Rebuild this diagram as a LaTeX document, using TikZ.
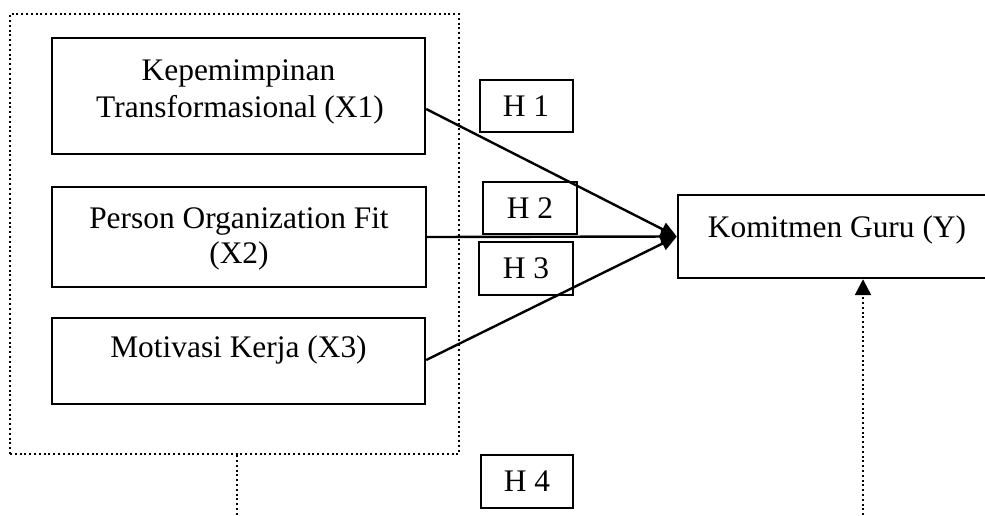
\documentclass[tikz,border=0pt]{standalone}
\usepackage{fontspec}
\setmainfont{Liberation Serif}
\usetikzlibrary{arrows.meta,calc}
\begin{document}
\begin{tikzpicture}[x=0.5pt,y=-0.5pt,
  font=\fontsize{15.7}{18.5}\selectfont,
  vbox/.style={draw,line width=1.2pt,inner sep=0pt},
  hbox/.style={draw,line width=1pt,inner sep=0pt,minimum height=26pt},
  dotbox/.style={draw,line width=1.2pt,dash pattern=on 1pt off 1.4pt,inner sep=0pt},
  dotline/.style={line width=1.2pt,dash pattern=on 1pt off 1.4pt},
  txt/.style={anchor=base,inner sep=0pt},
  arr/.style={line width=1.2pt,-{Triangle[length=8pt,width=7pt]}},
  dotarr/.style={dotline,-{Triangle[length=8pt,width=8pt]}}]
\clip (0,0) rectangle (985,515);
% outer dotted frame
\node[dotbox,minimum width=224.5pt,minimum height=220pt] (outer) at (234.5,234) {};
% variable boxes
\node[vbox,minimum width=186.5pt,minimum height=58pt] (x1) at (238.5,96) {};
\node[vbox,minimum width=187pt,minimum height=50pt] (x2) at (239,237) {};
\node[vbox,minimum width=186.5pt,minimum height=43pt] (x3) at (238.5,361) {};
\node[vbox,minimum width=156pt,minimum height=41.5pt] (y) at (834,236.5) {};
% texts
\node[txt] (t1a) at (238.5,80) {Kepemimpinan};
\node[txt] (t1b) at (240,117) {Transformasional (X1)};
\node[txt] (t2a) at (239,228) {Person Organization Fit};
\node[txt] (t2b) at (239,263) {(X2)};
\node[txt] (t3) at (238.5,357) {Motivasi Kerja (X3)};
\node[txt] (ty) at (837,237) {Komitmen Guru (Y)};
% hypothesis boxes
\node[hbox,minimum width=46.5pt] (h1) at (526,106) {H 1};
\node[hbox,minimum width=47pt] (h2) at (530,208) {H 2};
\node[hbox,minimum width=47pt,minimum height=26.5pt] (h3) at (526,268.5) {H 3};
\node[hbox,minimum width=46pt,minimum height=26.5pt] (h4) at (527,481.5) {H 4};
% arrows
\draw[arr] ([yshift=-6.5pt]x1.east) -- (y.west);
\draw[arr] (x2.east) -- (y.west);
\draw[arr] ([yshift=0.5pt]x3.east) -- (y.west);
% dotted connectors
\coordinate (b1) at (237,520);
\coordinate (b2) at (863,520);
\draw[dotline] (outer.south -| b1) -- (b1);
\draw[dotarr] (b2) -- (b2 |- y.south);
\end{tikzpicture}
\end{document}
